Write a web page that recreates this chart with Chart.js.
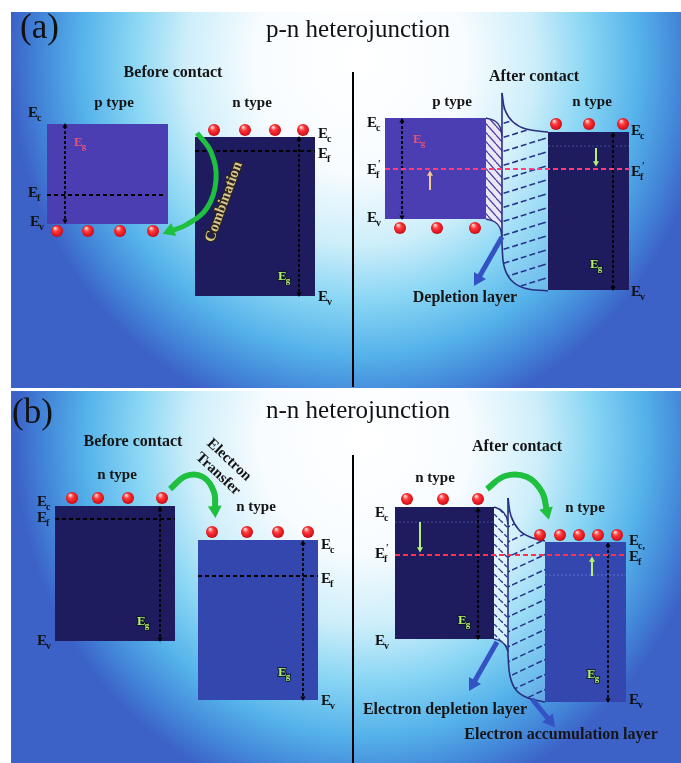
<!DOCTYPE html>
<html>
<head>
<meta charset="utf-8">
<script src="https://cdn.jsdelivr.net/npm/chart.js@4.4.1/dist/chart.umd.min.js"></script>
<style>
  html, body { margin: 0; padding: 0; background: #fff; }
  canvas { display: block; }
</style>
</head>
<body>
<canvas id="diagram" width="681" height="763"></canvas>
<script>
// band blocks as [xLeft, xRight, Ec, Ev] (diagram units, y grows downward)
const aBeforeP = [47, 168, 124, 224];
const aBeforeN = [195, 315, 137, 296];
const aAfterP  = [385, 487, 118, 219];
const aAfterN  = [548, 629, 132, 290];
const bBeforeL = [55, 175, 506, 641];
const bBeforeR = [198, 318, 540, 700];
const bAfterL  = [395, 494, 507, 639];
const bAfterR  = [545, 626, 542, 702];

// Fermi levels as [y, xFrom, xTo]
const aBeforeEfP = [195, 47, 166];
const aBeforeEfN = [151, 195, 315];
const aAfterEf   = [169, 385, 630];
const bBeforeEfL = [519, 55, 175];
const bBeforeEfR = [576, 198, 318];
const bAfterEf   = [555, 395, 626];
// old (pre-contact) levels left faintly inside the blocks
const aAfterOldEf = [146, 548, 629];
const bAfterOldL  = [522, 395, 494];
const bAfterOldR  = [575, 545, 626];

// band gap markers as [x, yTop, yBottom]
const aBeforeEg = [[65, 126, 221], [299, 139, 294]];
const aAfterEg  = [[402, 121, 217], [613, 135, 288]];
const bBeforeEg = [[160, 509, 639], [303, 543, 698]];
const bAfterEg  = [[478, 510, 637], [608, 545, 700]];

// carriers: x positions and the row they sit on
const aBeforeHolesX = [57, 88, 120, 153];       const aBeforeHolesY = 231;
const aBeforeElecX  = [214, 245, 275, 303];     const aBeforeElecY  = 130;
const aAfterHolesX  = [400, 437, 475];          const aAfterHolesY  = 228;
const aAfterElecX   = [556, 589, 623];          const aAfterElecY   = 124;
const bBeforeLX     = [72, 98, 128, 162];       const bBeforeLY     = 498;
const bBeforeRX     = [212, 247, 278, 308];     const bBeforeRY     = 532;
const bAfterLX      = [407, 443, 478];          const bAfterLY      = 499;
const bAfterRX      = [540, 560, 579, 598, 617];const bAfterRY      = 535;

// space charge regions (upper and lower boundaries)
const aDepPTop = [[486, 118], [495, 121], [500, 127], [502, 136]];
const aDepPBot = [[486, 219], [495, 222], [500, 228], [502, 238]];
const aDepNTop = [[502, 93], [505, 110], [513, 122], [526, 129], [548, 132]];
const aDepNBot = [[502, 245], [504, 266], [511, 280], [524, 288], [548, 291]];
const bDepLTop = [[494, 507], [501, 510], [506, 516], [508, 524]];
const bDepLBot = [[494, 639], [500, 641], [505, 645], [508, 652]];
const bDepRTop = [[508, 498], [511, 516], [519, 530], [530, 537], [545, 541]];
const bDepRBot = [[508, 655], [510, 676], [516, 690], [528, 698], [545, 702]];

// arrows
const aCombArrow  = [[197, 133], [211, 152], [216, 180], [207, 208], [186, 225], [170, 231]];
const bTransArrow = [[170, 489], [186, 476], [203, 477], [214, 492], [215, 510]];
const bAfterArrow = [[487, 489], [505, 476], [527, 477], [542, 492], [547, 512]];
const aDepArrow   = [[502, 237], [478, 279]];
const bDepArrow1  = [[497, 642], [473, 684]];
const bDepArrow2  = [[532, 699], [550, 721]];
const aSmallUp    = [[430, 190], [430, 174]];
const aSmallDown  = [[596, 148], [596, 163]];
const bSmallDown  = [[420, 522], [420, 549]];
const bSmallUp    = [[592, 576], [592, 560]];
const dividerA    = [[353, 72], [353, 387]];
const dividerB    = [[353, 455], [353, 763]];

const canvas = document.getElementById('diagram');
const ctx = canvas.getContext('2d');
const serif = '"Liberation Serif", "Times New Roman", serif';

const NAVY = '#1e1b5e', PURPLE = '#4a3eb2', MIDBLUE = '#3447ae';
const GREEN = '#1fbf3f', ARROWBLUE = '#3552c4', EDGE = '#28307f';

const ds = [];
function add(d) { d.order = -ds.length; ds.push(d); return ds.length - 1; }
const pts = arr => arr.map(([x, y]) => ({ x, y }));

function band(b, color) {
  add({ data: [{ x: b[0], y: b[2] }, { x: b[1], y: b[2] }], fill: { value: b[3] },
        backgroundColor: color, borderColor: 'rgba(0,0,0,0)', borderWidth: 1, pointRadius: 0 });
}
function level(l, color, width, dash) {
  add({ data: [{ x: l[1], y: l[0] }, { x: l[2], y: l[0] }], borderColor: color,
        borderWidth: width, borderDash: dash, pointRadius: 0 });
}
function curve(p, color, width, fill, bg) {
  return add({ data: pts(p), borderColor: color, borderWidth: width, tension: 0.4,
               pointRadius: 0, fill: fill || false, backgroundColor: bg });
}
function arrow(p, color, width, head, twoWay, dash, tension) {
  const n = p.length;
  const ang = (a, b) => Math.atan2(b[0] - a[0], -(b[1] - a[1])) * 180 / Math.PI;
  add({
    data: pts(p), borderColor: color, borderWidth: width, borderDash: dash || [],
    tension: tension || 0, pointStyle: 'triangle',
    pointRadius: p.map((_, i) => (i === n - 1 || (twoWay && i === 0)) ? head : 0),
    pointRotation: p.map((_, i) => i === 0 ? ang(p[1], p[0]) : ang(p[n - 2], p[n - 1])),
    pointBackgroundColor: color, pointBorderWidth: 0
  });
}
function eg(list) { list.forEach(([x, t, b]) => arrow([[x, t], [x, b]], '#000', 1.8, 3, true, [3, 2])); }

function sphere(r) {
  const c = document.createElement('canvas');
  c.width = c.height = 2 * r + 2;
  const g = c.getContext('2d');
  const gr = g.createRadialGradient(r - 1, r - 2, 0.5, r + 1, r + 1, r + 1);
  gr.addColorStop(0, '#ffd6d6'); gr.addColorStop(0.35, '#ff3a3a');
  gr.addColorStop(0.8, '#d8101a'); gr.addColorStop(1, '#a0000a');
  g.fillStyle = gr; g.beginPath(); g.arc(r + 1, r + 1, r, 0, Math.PI * 2); g.fill();
  return c;
}
const ball = sphere(6);
function carriers(xs, y) {
  add({ data: xs.map(x => ({ x, y })), showLine: false, pointStyle: ball, pointRadius: 6 });
}

function hatch(w, h, dir, color, lw, dash, bg) {
  const c = document.createElement('canvas');
  c.width = w; c.height = h;
  const g = c.getContext('2d');
  if (bg) { g.fillStyle = bg; g.fillRect(0, 0, w, h); }
  g.strokeStyle = color; g.lineWidth = lw; g.setLineDash(dash || []);
  for (const k of [-1, 0, 1]) {
    g.beginPath();
    if (dir > 0) { g.moveTo(0, h + k * h); g.lineTo(w, k * h); }
    else { g.moveTo(0, k * h); g.lineTo(w, h + k * h); }
    g.stroke();
  }
  return ctx.createPattern(c, 'repeat');
}
const hatchAP = hatch(8, 9, -1, '#4a3fa6', 1.3, null, '#ebe7f7');
const hatchAN = hatch(45, 14, 1, '#27348c', 1.6, [6, 3], 'rgba(255,255,255,0.15)');
const hatchBL = hatch(10, 10, -1, '#27348c', 1.3, [4, 2], 'rgba(230,246,255,0.8)');
const hatchBR = hatch(32, 15, 1, '#27348c', 1.5, [6, 3], 'rgba(255,255,255,0.15)');

// ---- panel (a) ----
band(aBeforeP, PURPLE);
band(aBeforeN, NAVY);
band(aAfterP, PURPLE);
band(aAfterN, NAVY);
level(aAfterOldEf, 'rgba(140,160,255,0.35)', 1, [2, 2]);
curve(aDepPTop, EDGE, 1.4, '+1', hatchAP);
curve(aDepPBot, EDGE, 1.4);
curve(aDepNTop, EDGE, 1.6, '+1', hatchAN);
curve(aDepNBot, EDGE, 1.6);
curve([aDepNTop[0], aDepNBot[0]], EDGE, 1.6);
level(aBeforeEfP, '#000', 2, [4, 3]);
level(aBeforeEfN, '#000', 2, [4, 3]);
eg(aBeforeEg);
eg(aAfterEg);
level(aAfterEf, '#ff3c7c', 2.2, [5, 3]);
carriers(aBeforeHolesX, aBeforeHolesY);
carriers(aBeforeElecX, aBeforeElecY);
carriers(aAfterHolesX, aAfterHolesY);
carriers(aAfterElecX, aAfterElecY);
arrow(aCombArrow, GREEN, 5, 8, false, null, 0.4);
arrow(aDepArrow, ARROWBLUE, 5, 8);
arrow(aSmallUp, '#f2c88e', 2, 3.5);
arrow(aSmallDown, '#b4f07a', 2, 3.5);
arrow(dividerA, '#000', 2, 0);

// ---- panel (b) ----
band(bBeforeL, NAVY);
band(bBeforeR, MIDBLUE);
band(bAfterL, NAVY);
band(bAfterR, MIDBLUE);
level(bAfterOldL, 'rgba(140,160,255,0.35)', 1, [2, 2]);
level(bAfterOldR, 'rgba(170,190,255,0.35)', 1, [2, 2]);
curve(bDepLTop, EDGE, 1.4, '+1', hatchBL);
curve(bDepLBot, EDGE, 1.4);
curve(bDepRTop, EDGE, 1.6, '+1', hatchBR);
curve(bDepRBot, EDGE, 1.6);
curve([bDepRTop[0], bDepRBot[0]], EDGE, 1.6);
level(bBeforeEfL, '#000', 2, [4, 3]);
level(bBeforeEfR, '#000', 2, [4, 3]);
eg(bBeforeEg);
eg(bAfterEg);
level(bAfterEf, '#ff3050', 2.2, [5, 3]);
carriers(bBeforeLX, bBeforeLY);
carriers(bBeforeRX, bBeforeRY);
carriers(bAfterLX, bAfterLY);
carriers(bAfterRX, bAfterRY);
arrow(bTransArrow, GREEN, 6, 8, false, null, 0.4);
arrow(bAfterArrow, GREEN, 6, 8, false, null, 0.4);
arrow(bDepArrow1, ARROWBLUE, 5, 8);
arrow(bDepArrow2, ARROWBLUE, 5, 8);
arrow(bSmallDown, '#b4f07a', 2, 3.5);
arrow(bSmallUp, '#b4f07a', 2, 3.5);
arrow(dividerB, '#000', 2, 0);

// ---- text ----
const headings = [
  ['(a)', 20, 38, 'tag'], ['p-n heterojunction', 358, 37, 'title'],
  ['(b)', 12, 423, 'tag'], ['n-n heterojunction', 358, 418, 'title']
];
const captions = [
  ['Before contact', 173, 73], ['p type', 114, 103], ['n type', 252, 103],
  ['After contact', 534, 77], ['p type', 452, 102], ['n type', 592, 102],
  ['Depletion layer', 465, 298],
  ['Before contact', 133, 442], ['n type', 117, 475], ['n type', 256, 507],
  ['After contact', 517, 447], ['n type', 435, 478], ['n type', 585, 508],
  ['Electron depletion layer', 445, 710], ['Electron accumulation layer', 561, 735]
];
const levelTags = [
  ['c', 28, 113], ['f', 28, 193], ['v', 30, 222], ['c', 318, 134], ['f', 318, 154], ['v', 318, 297],
  ['c', 367, 123], ['f', 367, 170, true], ['v', 367, 218], ['c', 631, 131], ['f', 631, 172, true], ['v', 631, 292],
  ['c', 37, 502], ['f', 37, 518], ['v', 37, 641], ['c', 321, 545], ['f', 321, 579], ['v', 321, 701],
  ['c', 375, 513], ['f', 375, 554, true], ['v', 375, 641], ['c,', 629, 541], ['f', 629, 557], ['v', 629, 700]
];
const gapTags = [
  [74, 143, 'pink'], [413, 140, 'pink'],
  [278, 277, 'green'], [590, 265, 'green'], [137, 622, 'green'],
  [278, 673, 'green'], [458, 621, 'green'], [587, 675, 'green']
];
const slanted = [
  ['Combination', 224, 202, -70, '#d9c488'],
  ['Electron', 229, 460, 43, '#151515'],
  ['Transfer', 218, 474, 43, '#151515']
];

const backdrop = {
  id: 'backdrop',
  beforeDraw(chart) {
    const c = chart.ctx;
    c.save();
    c.fillStyle = '#fff';
    c.fillRect(0, 0, chart.width, chart.height);
    const panel = (top, bottom, cx, cy) => {
      c.save();
      c.beginPath(); c.rect(11, top, chart.width - 11, bottom - top); c.clip();
      c.translate(cx, cy); c.scale(1, 370 / 350);
      const g = c.createRadialGradient(0, 0, 0, 0, 0, 350);
      g.addColorStop(0, '#ffffff'); g.addColorStop(0.3, '#f8fcff');
      g.addColorStop(0.5, '#cdeefa'); g.addColorStop(0.65, '#8ad6f4');
      g.addColorStop(0.8, '#55b2ea'); g.addColorStop(0.92, '#4284d8');
      g.addColorStop(1, '#3c62c8');
      c.fillStyle = g; c.fillRect(-2000, -2000, 4000, 4000);
      c.restore();
    };
    panel(12, 388, 360, 60);
    panel(391, 763, 365, 440);
    c.restore();
  }
};

const texts = {
  id: 'texts',
  afterDatasetsDraw(chart) {
    const c = chart.ctx, sx = chart.scales.x, sy = chart.scales.y;
    const X = v => sx.getPixelForValue(v), Y = v => sy.getPixelForValue(v);
    c.save();
    headings.forEach(([s, x, y, kind]) => {
      c.font = kind === 'tag' ? `35px ${serif}` : `25px ${serif}`;
      c.fillStyle = '#111'; c.textBaseline = 'alphabetic';
      c.textAlign = kind === 'tag' ? 'left' : 'center';
      c.fillText(s, X(x), Y(y));
    });
    c.font = `bold 16px ${serif}`; c.fillStyle = '#151515';
    c.textAlign = 'center'; c.textBaseline = 'middle';
    captions.forEach(([s, x, y]) => {
      c.font = /type/.test(s) ? `bold 15px ${serif}` : `bold 16px ${serif}`;
      c.fillText(s, X(x), Y(y));
    });
    c.textAlign = 'left';
    levelTags.forEach(([sub, x, y, prime]) => {
      c.font = `bold 15px ${serif}`; c.fillStyle = '#111';
      c.fillText('E', X(x), Y(y));
      const w = c.measureText('E').width;
      c.font = `bold 10px ${serif}`;
      c.fillText(sub, X(x) + w - 1, Y(y) + 5);
      if (prime) c.fillText('\u2032', X(x) + w + 1, Y(y) - 6);
    });
    gapTags.forEach(([x, y, kind]) => {
      const col = kind === 'pink' ? '#e2527c' : '#b2ee6c';
      c.font = `bold 13px ${serif}`;
      c.lineWidth = 2; c.strokeStyle = 'rgba(10,20,30,0.8)';
      if (kind !== 'pink') c.strokeText('E', X(x), Y(y));
      c.fillStyle = col; c.fillText('E', X(x), Y(y));
      const w = c.measureText('E').width;
      c.font = `bold 9px ${serif}`;
      if (kind !== 'pink') c.strokeText('g', X(x) + w - 1, Y(y) + 4);
      c.fillText('g', X(x) + w - 1, Y(y) + 4);
    });
    slanted.forEach(([s, x, y, rot, col]) => {
      c.save();
      c.translate(X(x), Y(y)); c.rotate(rot * Math.PI / 180);
      c.font = `bold 15px ${serif}`; c.textAlign = 'center';
      if (s === 'Combination') { c.lineWidth = 2.5; c.strokeStyle = '#2a2520'; c.strokeText(s, 0, 0); }
      c.fillStyle = col; c.fillText(s, 0, 0);
      c.restore();
    });
    c.restore();
  }
};

new Chart(canvas, {
  type: 'line',
  data: { datasets: ds },
  options: {
    responsive: false,
    animation: false,
    events: [],
    layout: { padding: 0, autoPadding: false },
    plugins: { legend: { display: false }, tooltip: { enabled: false } },
    scales: {
      x: { type: 'linear', min: 0, max: 681, display: false },
      y: { type: 'linear', min: 0, max: 763, reverse: true, display: false }
    }
  },
  plugins: [backdrop, texts]
});
</script>
</body>
</html>
